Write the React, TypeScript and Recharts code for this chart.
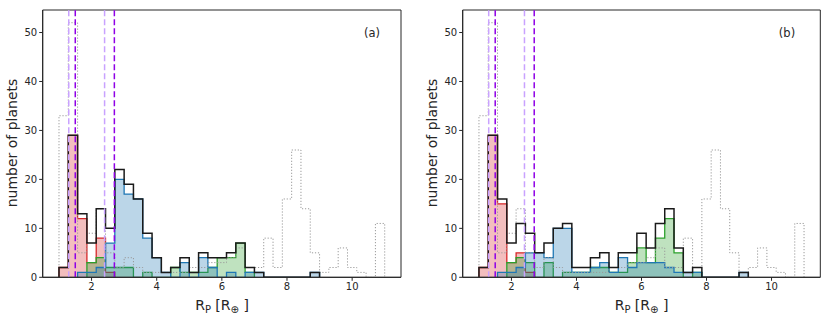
import React from 'react';
import { ComposedChart, Area, Line, XAxis, YAxis, ReferenceLine, ReferenceArea } from 'recharts';

// histogram binning: 35 bins between 1 and 11 Earth radii
const BIN_START = 1;
const BIN_END = 11;
const BIN_COUNT = 35;

const X_TICKS = [2, 4, 6, 8, 10];
const Y_TICKS = [0, 10, 20, 30, 40, 50];
const Y_MAX = 54.6;

const CUTS_LIGHT = [1.3, 2.4];
const CUTS_DARK = [1.5, 2.7];

// full sample (dotted), same in both panels
const ALL_PLANETS = [33, 52, 5, 9, 14, 5, 2, 4, 2, 1, 1, 1, 1, 1, 2, 2, 3, 3, 4, 6, 2, 2, 8, 2, 16, 26, 14, 5, 1, 2, 6, 2, 1, 0, 11];

// panel (a)
const A_TOTAL = [2, 29, 13, 7, 14, 10, 22, 19, 16, 9, 4, 1, 2, 4, 1, 5, 4, 4, 5, 7, 2, 1, 0, 0, 0, 0, 0, 1, 0, 0, 0, 0, 0, 0, 0];
const A_RED = [2, 29, 12, 3, 8, 1, 0, 0, 0, 0, 0, 0, 0, 0, 0, 0, 0, 0, 0, 0, 0, 0, 0, 0, 0, 0, 0, 0, 0, 0, 0, 0, 0, 0, 0];
const A_GREEN = [0, 0, 0, 3, 4, 2, 2, 2, 0, 1, 0, 0, 2, 1, 1, 1, 2, 4, 4, 7, 1, 0, 0, 0, 0, 0, 0, 0, 0, 0, 0, 0, 0, 0, 0];
const A_BLUE = [0, 0, 1, 1, 2, 7, 20, 17, 16, 8, 4, 1, 0, 3, 0, 4, 2, 0, 1, 0, 1, 1, 0, 0, 0, 0, 0, 1, 0, 0, 0, 0, 0, 0, 0];

// panel (b)
const B_TOTAL = [2, 29, 16, 7, 11, 9, 5, 7, 10, 11, 2, 2, 4, 5, 2, 5, 5, 9, 6, 11, 14, 6, 1, 2, 0, 0, 0, 0, 1, 0, 0, 0, 0, 0, 0];
const B_RED = [2, 29, 15, 3, 5, 1, 0, 0, 0, 0, 0, 0, 0, 0, 0, 0, 0, 0, 0, 0, 0, 0, 0, 0, 0, 0, 0, 0, 0, 0, 0, 0, 0, 0, 0];
const B_GREEN = [0, 0, 0, 3, 4, 3, 0, 3, 0, 1, 1, 1, 2, 2, 1, 1, 3, 6, 3, 8, 12, 5, 0, 1, 0, 0, 0, 0, 0, 0, 0, 0, 0, 0, 0];
const B_BLUE = [0, 0, 1, 1, 2, 5, 5, 4, 10, 10, 1, 1, 2, 3, 1, 4, 2, 3, 3, 3, 2, 1, 1, 1, 0, 0, 0, 0, 1, 0, 0, 0, 0, 0, 0];

const FONT = '"DejaVu Sans", sans-serif';
const INK = '#262626';

const binWidth = (BIN_END - BIN_START) / BIN_COUNT;
const edge = (k: number) => BIN_START + k * binWidth;

// turn bin counts into stepAfter points, closed down to zero at both ends
function stepPoints(counts: number[]) {
  const first = counts.findIndex(c => c > 0);
  let last = counts.length - 1;
  while (last > 0 && counts[last] === 0) last--;
  const pts = [{ x: edge(first), y: 0 }];
  for (let k = first; k <= last; k++) pts.push({ x: edge(k), y: counts[k] });
  pts.push({ x: edge(last + 1), y: 0 });
  return pts;
}

const FILLS = [
  { key: 'red', color: '#d62728' },
  { key: 'green', color: '#2ca02c' },
  { key: 'blue', color: '#1f77b4' },
];

function Panel({ total, red, green, blue, yAxisWidth, right }: {
  total: number[]; red: number[]; green: number[]; blue: number[]; yAxisWidth: number; right: number;
}) {
  const fills: Record<string, number[]> = { red, green, blue };
  return (
    <ComposedChart width={415} height={316} margin={{ top: 10, right, bottom: 0, left: 0 }}>
      <XAxis
        dataKey="x"
        type="number"
        domain={[0.5, 11.5]}
        ticks={X_TICKS}
        allowDataOverflow
        height={38.7}
        tickSize={3.5}
        tickMargin={2}
        axisLine={{ stroke: INK }}
        tickLine={{ stroke: INK }}
        tick={{ fill: INK, fontSize: 10, fontFamily: FONT }}
      />
      <YAxis
        type="number"
        domain={[0, Y_MAX]}
        ticks={Y_TICKS}
        allowDataOverflow
        width={yAxisWidth}
        tickSize={3.5}
        tickMargin={2}
        axisLine={{ stroke: INK }}
        tickLine={{ stroke: INK }}
        tick={{ fill: INK, fontSize: 10, fontFamily: FONT }}
      />
      <Line
        data={stepPoints(ALL_PLANETS)}
        dataKey="y"
        type="stepAfter"
        stroke="#9a9a9a"
        strokeWidth={1}
        strokeDasharray="1.2 1.8"
        dot={false}
        activeDot={false}
        isAnimationActive={false}
      />
      {FILLS.map(f => (
        <Area
          key={f.key}
          data={stepPoints(fills[f.key])}
          dataKey="y"
          type="stepAfter"
          fill={f.color}
          fillOpacity={0.3}
          stroke={f.color}
          strokeWidth={1.3}
          dot={false}
          activeDot={false}
          isAnimationActive={false}
        />
      ))}
      <Line
        data={stepPoints(total)}
        dataKey="y"
        type="stepAfter"
        stroke="#1a1a1a"
        strokeWidth={1.5}
        dot={false}
        activeDot={false}
        isAnimationActive={false}
      />
      {CUTS_LIGHT.map(x => (
        <ReferenceLine key={'l' + x} x={x} stroke="#c9a2ff" strokeWidth={1.5} strokeDasharray="6 3" />
      ))}
      {CUTS_DARK.map(x => (
        <ReferenceLine key={'d' + x} x={x} stroke="#8f00e6" strokeWidth={1.5} strokeDasharray="6 3" />
      ))}
      <ReferenceArea x1={0.5} x2={11.5} y1={0} y2={Y_MAX} fill="none" stroke={INK} strokeWidth={1} />
    </ComposedChart>
  );
}

function AxisTitles({ cx, ylx, letter, letterX }: { cx: number; ylx: number; letter: string; letterX: number }) {
  return (
    <g fontFamily={FONT} fill={INK}>
      <text x={ylx} y={143} fontSize={14} textAnchor="middle" dominantBaseline="central" transform={`rotate(-90 ${ylx} 143)`}>
        number of planets
      </text>
      <text x={cx} y={309.5} fontSize={14} textAnchor="middle">
        R<tspan fontSize={10} dy={3}>P</tspan>
        <tspan dy={-3}> [R</tspan>
        <tspan fontSize={10} dy={3}>⊕</tspan>
        <tspan dy={-3}> ]</tspan>
      </text>
      <text x={letterX} y={36.7} fontSize={11.5} textAnchor="middle">{letter}</text>
    </g>
  );
}

export default function App() {
  return (
    <div style={{ position: 'absolute', left: 0, top: 0, width: 830, height: 316, background: '#fff' }}>
      <div style={{ position: 'absolute', left: 0, top: 0 }}>
        <Panel total={A_TOTAL} red={A_RED} green={A_GREEN} blue={A_BLUE} yAxisWidth={42.7} right={14} />
      </div>
      <div style={{ position: 'absolute', left: 415, top: 0 }}>
        <Panel total={B_TOTAL} red={B_RED} green={B_GREEN} blue={B_BLUE} yAxisWidth={47.7} right={9.7} />
      </div>
      <svg width={830} height={316} style={{ position: 'absolute', left: 0, top: 0, pointerEvents: 'none' }}>
        <AxisTitles cx={222} ylx={12} letter="(a)" letterX={372} />
        <AxisTitles cx={641.5} ylx={432} letter="(b)" letterX={787} />
      </svg>
    </div>
  );
}
